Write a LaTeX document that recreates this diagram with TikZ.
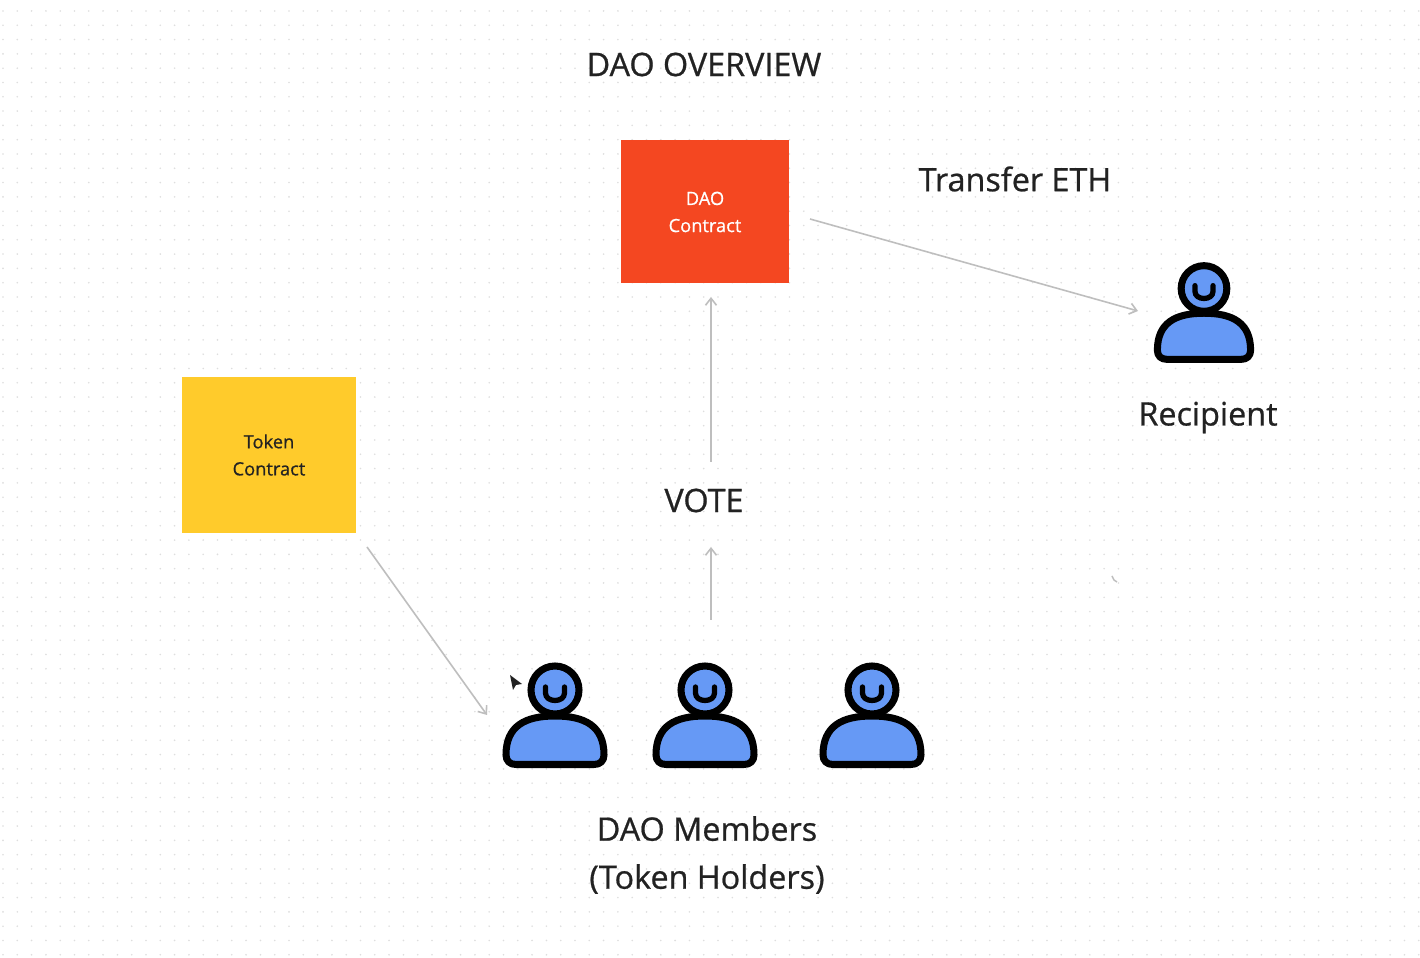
\documentclass[tikz,border=0pt]{standalone}
\usepackage{fontspec}
\setmainfont{Open Sans}[RawFeature={embolden=0.7}]
\usepackage{xcolor}
\usetikzlibrary{arrows.meta}
\usetikzlibrary{math}
\definecolor{myred}{RGB}{244,71,33}
\definecolor{myyellow}{RGB}{255,203,43}
\definecolor{myblue}{RGB}{102,153,245}
\definecolor{myink}{RGB}{34,34,34}
\definecolor{mygray}{RGB}{190,190,190}
\tikzset{
  box/.style={minimum width=#1, align=center, inner sep=0pt, font=\fontsize{5.2}{7.7}\selectfont},
  bigtext/.style={text=myink, align=center, inner sep=0pt, font=\fontsize{9.2}{13.65}\selectfont},
  flow/.style={-{Straight Barb[length=0.7mm,width=1.1mm]}, color=mygray, line width=0.45pt},
  person/.pic={
    \draw[fill=myblue, line width=2pt, line join=round]
      (-39,74.5) .. controls (-45,74.5) and (-49,71) .. (-49,65)
      .. controls (-49,36) and (-30,26) .. (0,26)
      .. controls (30,26) and (49,36) .. (49,65)
      .. controls (49,71) and (45,74.5) .. (39,74.5) -- cycle;
    \draw[fill=myblue, line width=2pt] (0,0) circle [radius=24];
    \draw[line width=1.5pt, line cap=round] (-9.5,-3) -- (-9.5,3)
      .. controls (-9.5,13) and (9.5,13) .. (9.5,3) -- (9.5,-3);
  }
}

\begin{document}
\begin{tikzpicture}[x=0.01cm,y=-0.01cm]
\tikzmath{
\step=14.3;
\rows=66;
\cols=99;
}
\useasboundingbox (0,0) rectangle (1420,958);
\fill[white] (0,0) rectangle (1420,958);

% dotted canvas
\foreach \i in {0,...,\cols}{
\foreach \j in {0,...,\rows}{
  \fill[color=black!13] ({3+\i*\step},{11+\j*\step}) circle [radius=0.9];
}}

\node[bigtext] (title) at (704,64.5) {DAO OVERVIEW};

%%%%%%%%%%   contracts
\node[box=1.68cm, minimum height=1.43cm, fill=myred, text=white] (dao) at (705,211.5) {};
\node[box=1cm, text=white] (daolabel) at (705,212) {DAO\\Contract};
\node[box=1.74cm, minimum height=1.56cm, fill=myyellow, text=myink] (token) at (269,455) {};
\node[box=1cm, text=myink] (tokenlabel) at (269,455) {Token\\Contract};

\node[bigtext] (transfer) at (1015,179) {Transfer ETH};
\node[bigtext] (vote) at (704,500.5) {VOTE};
\node[bigtext] (recipient) at (1208,417.5) {Recipient};
\node[bigtext] (members) at (707,855) {DAO Members\\(Token Holders)};

%%%%%%%%%%   people
\pic (member1) at (555,690) {person};
\pic (member2) at (705,690) {person};
\pic (member3) at (872,690) {person};
\begin{scope}[shift={(1204,288.5)},x=0.0095cm,y=-0.0095cm]
\pic (receiver) at (0,0) {person};
\end{scope}

%%%%%%%%%%   arrows
\coordinate (daoout) at (810,219);
\coordinate (recipientin) at (1138,311);
\coordinate (tokenout) at (367,547);
\coordinate (membersin) at (487,715);
\coordinate (voteout) at (711,462);
\coordinate (daoin) at (711,297);
\coordinate (membersout) at (711,620);
\coordinate (votein) at (711,547);
\draw[flow] (daoout) -- (recipientin);
\draw[flow] (tokenout) -- (membersin);
\draw[flow] (voteout) -- (daoin);
\draw[flow] (membersout) -- (votein);

% pointer and stray mark
\fill[color=myink] (510,675) -- (522,684) -- (516,685) -- (513,690) -- cycle;
\draw[color=mygray, line width=0.4pt] (1112,576) -- (1114,580) -- (1117,582);
\end{tikzpicture}
\end{document}
